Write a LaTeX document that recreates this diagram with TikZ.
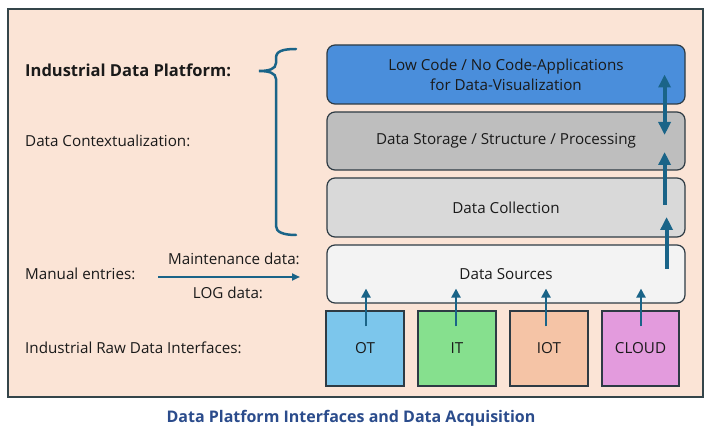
\documentclass[tikz,border=0pt]{standalone}
\usepackage{fontspec}
\setmainfont{Open Sans}
\usetikzlibrary{arrows.meta}
\definecolor{bgpeach}{HTML}{FBE4D6}
\definecolor{framecol}{HTML}{34454A}
\definecolor{boxline}{HTML}{2E3B44}
\definecolor{lcfill}{HTML}{4A8EDB}
\definecolor{stfill}{HTML}{BEBEBE}
\definecolor{dcfill}{HTML}{D9D9D9}
\definecolor{dsfill}{HTML}{F3F3F3}
\definecolor{otfill}{HTML}{7CC6EC}
\definecolor{itfill}{HTML}{86E08E}
\definecolor{iotfill}{HTML}{F5C4A6}
\definecolor{cloudfill}{HTML}{E39BDD}
\definecolor{arrcol}{HTML}{1A6488}
\definecolor{titlecol}{HTML}{2B4C8C}
\definecolor{txt}{HTML}{1A1A1A}
\tikzset{
  layer/.style={draw=boxline, line width=1.2pt, rounded corners=8pt, minimum width=358pt,
    minimum height=58pt, inner sep=0pt, align=center, text=txt, font=\fontsize{15.2}{20}\selectfont},
  srcbox/.style={draw=boxline, line width=1.2pt, minimum width=78pt, minimum height=75pt,
    inner sep=0pt, text=txt, font=\fontsize{15.2}{18}\selectfont},
  lbl/.style={anchor=west, inner sep=0pt, text=txt, font=\fontsize{15.2}{18}\selectfont},
  bigarr/.style={draw=arrcol, line width=4pt, -{Triangle[width=12pt,length=13pt]}},
  smallarr/.style={draw=arrcol, line width=2.8pt, -{Triangle[width=9pt,length=9pt]}},
  thinarr/.style={draw=arrcol, line width=2pt, -{Triangle[width=7pt,length=8pt]}},
  bracestyle/.style={draw=arrcol, line width=2.5pt, line cap=round}
}
\begin{document}
\begin{tikzpicture}[x=1pt,y=-1pt]
\useasboundingbox (0,0) rectangle (718,438);
\fill[white] (0,0) rectangle (718,438);
\draw[framecol, line width=1.6pt, fill=bgpeach] (8,9) rectangle (703,397);

% layers
\node[layer, fill=lcfill, minimum height=59pt] (lc) at (506,74.5) {Low Code / No Code-Applications\\for Data-Visualization};
\node[layer, fill=stfill] (st) at (506,141) {Data Storage / Structure / Processing};
\node[layer, fill=dcfill, minimum height=59pt] (dc) at (506,207.5) {Data Collection};
\node[layer, fill=dsfill] (ds) at (506,274) {Data Sources};

% sources
\node[srcbox, fill=otfill] (ot) at (365,348.5) {OT};
\node[srcbox, fill=itfill] (it) at (457,348.5) {IT};
\node[srcbox, fill=iotfill] (iot) at (549,348.5) {IOT};
\node[srcbox, fill=cloudfill, minimum width=77pt] (cloud) at (640.5,348.5) {CLOUD};

% small arrows into data sources
\draw[smallarr] ([xshift=1pt,yshift=-16pt]ot.north) -- ([xshift=-140pt,yshift=15pt]ds.south);
\draw[smallarr] ([xshift=-1pt,yshift=-16pt]it.north) -- ([xshift=-50pt,yshift=15pt]ds.south);
\draw[smallarr] ([xshift=-3pt,yshift=-16pt]iot.north) -- ([xshift=40pt,yshift=15pt]ds.south);
\draw[smallarr] ([xshift=0.5pt,yshift=-16pt]cloud.north) -- ([xshift=135pt,yshift=15pt]ds.south);

% right vertical arrows
\draw[bigarr] ([xshift=-19pt,yshift=5pt]ds.east) -- ([xshift=-19pt,yshift=-9.5pt]dc.east);
\draw[bigarr] ([xshift=-21pt,yshift=2.5pt]dc.east) -- ([xshift=-21pt,yshift=-11pt]st.east);
\draw[bigarr, {Triangle[width=12pt,length=13pt]}-{Triangle[width=12pt,length=13pt]}] ([xshift=-21pt,yshift=6pt]st.east) -- ([xshift=-21pt,yshift=0pt]lc.east);

% brace
\draw[bracestyle] (296,49) .. controls (283,49) and (276,51) .. (276,58) -- (276,63)
  .. controls (276,69) and (269,71) .. (259,71)
  .. controls (269,71) and (276,73) .. (276,79) -- (276,226)
  .. controls (276,232) and (283,235) .. (296,235);

% left labels
\node[lbl, font=\bfseries\fontsize{16.5}{18}\selectfont] (idp) at (25,70) {Industrial Data Platform:};
\node[lbl] (ctx) at (25,141) {Data Contextualization:};
\node[lbl] (man) at (25,274) {Manual entries:};
\node[lbl] (raw) at (25,348) {Industrial Raw Data Interfaces:};
\node[lbl, anchor=east] (maint) at (300,259) {Maintenance data:};
\node[lbl, anchor=center] (logd) at (228,293) {LOG data:};

\coordinate (me1) at (158,277);
\coordinate (me2) at (300,277);
\draw[thinarr] (me1) -- (me2);

% title
\node[inner sep=0pt, text=titlecol, font=\bfseries\fontsize{16}{20}\selectfont] (title) at (351,418) {Data Platform Interfaces and Data Acquisition};
\end{tikzpicture}
\end{document}
